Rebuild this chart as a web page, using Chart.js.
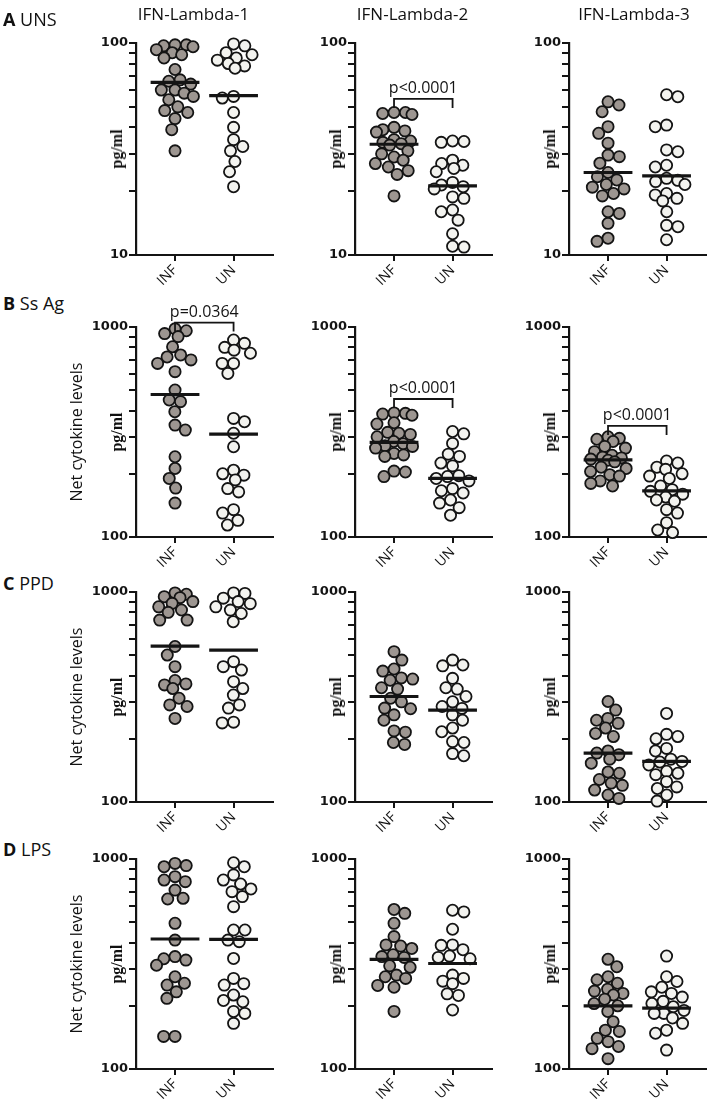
<!DOCTYPE html>
<html><head><meta charset="utf-8">
<script src="https://cdn.jsdelivr.net/npm/chart.js@4.4.0/dist/chart.umd.min.js"></script>
<style>
html,body{margin:0;padding:0;background:#fff;}
body{width:709px;height:1106px;overflow:hidden;position:relative;font-family:'Open Sans',sans-serif;color:#111;}
.lbl{position:absolute;white-space:nowrap;line-height:1;}
canvas{position:absolute;}
</style></head><body>
<script>
// ---------- data ----------
const groups = ['INF', 'UN'];
const cytokines = ['IFN-Lambda-1', 'IFN-Lambda-2', 'IFN-Lambda-3'];
const rowLetters = ['A', 'B', 'C', 'D'];
const rowNames = ['UNS', 'Ss Ag', 'PPD', 'LPS'];
const yTicksUns = [10, 20, 30, 40, 50, 60, 70, 80, 90, 100];
const yTicksStim = [100, 200, 300, 400, 500, 600, 700, 800, 900, 1000];
const rowTicks = [yTicksUns, yTicksStim, yTicksStim, yTicksStim];
const unitLabel = 'pg/ml';
const sideLabel = 'Net cytokine levels';

// A  UNS
const a1Inf = [98, 98, 97, 96, 93, 90, 88, 85, 75, 67, 66, 64, 60, 60, 58, 56, 54, 50, 48, 47, 44, 39, 31];
const a1Un  = [99, 97, 90, 88, 85, 83, 80, 78, 76, 56, 55, 47, 40, 35, 32.5, 31, 27.6, 24.7, 21];
const a2Inf = [47, 47, 46.5, 46, 40, 39, 38.5, 38, 35, 34.5, 34, 33.5, 33, 31, 30, 29, 28, 27, 26, 25, 24, 19];
const a2Un  = [34.5, 34.3, 34, 28, 27, 26.5, 25.6, 24.7, 22, 21.4, 21, 20.5, 18.8, 18.5, 16.3, 16, 14.6, 12.6, 11, 10.9];
const a3Inf = [52.8, 51, 47.4, 40.3, 37.5, 33.7, 29.6, 29.1, 27.1, 24.5, 23.4, 22.6, 21.5, 20.9, 20.5, 19.5, 19, 16, 15.7, 14.1, 12, 11.6];
const a3Un  = [57, 55.8, 41, 40.3, 31.3, 30.7, 26.5, 26, 23, 22.5, 22.2, 21.5, 19.5, 19.2, 18.5, 18, 16, 13.8, 13.6, 11.8];
const aMed  = [[65.2, 56.5], [33.3, 21.2], [24.5, 23.6]];

// B  Ss Ag
const b1Inf = [980, 960, 930, 900, 805, 736, 720, 697, 671, 613, 501, 449, 441, 395, 341, 323, 241, 212, 190, 171, 145];
const b1Un  = [867, 836, 800, 776, 750, 671, 671, 601, 367, 354, 312, 269, 208, 200, 197, 187, 170, 164, 135, 130, 120, 114];
const b2Inf = [390, 388, 385, 380, 350, 345, 315, 312, 308, 300, 285, 278, 272, 270, 265, 250, 246, 242, 206, 204, 194];
const b2Un  = [318, 310, 279, 248, 242, 225, 218, 196, 194, 190, 185, 170, 166, 162, 150, 145, 138, 127];
const b3Inf = [300, 295, 292, 285, 270, 265, 255, 245, 240, 238, 235, 232, 228, 215, 212, 205, 198, 195, 185, 180, 175];
const b3Un  = [230, 225, 215, 210, 200, 195, 190, 175, 168, 165, 160, 155, 150, 148, 135, 130, 117, 108, 105];
const bMed  = [[477, 309], [282, 190], [233, 166]];

// C  PPD
const c1Inf = [990, 975, 950, 940, 900, 883, 850, 821, 800, 735, 735, 550, 501, 441, 379, 365, 361, 347, 312, 290, 285, 250];
const c1Un  = [990, 985, 935, 900, 880, 850, 820, 790, 722, 466, 441, 425, 374, 347, 323, 290, 280, 240, 238];
const c2Inf = [520, 474, 430, 420, 390, 385, 380, 350, 345, 312, 300, 280, 278, 260, 245, 218, 215, 192, 188];
const c2Un  = [474, 449, 445, 388, 350, 345, 318, 300, 285, 279, 260, 245, 225, 216, 194, 192, 170, 166];
const c3Inf = [301, 274, 250, 245, 237, 225, 212, 205, 175, 171, 168, 160, 153, 139, 137, 128, 123, 120, 114, 108, 104];
const c3Un  = [264, 210, 205, 200, 180, 175, 160, 156, 155, 150, 140, 137, 135, 125, 118, 116, 108, 101];
const cMed  = [[553, 529], [318, 274], [171, 156]];

// D  LPS
const d1Inf = [953, 930, 919, 824, 794, 780, 711, 650, 645, 494, 411, 343, 335, 330, 312, 275, 256, 251, 233, 217, 143, 143];
const d1Un  = [960, 919, 840, 794, 760, 720, 699, 662, 593, 459, 459, 411, 404, 336, 270, 255, 251, 225, 212, 209, 188, 184, 165];
const d2Inf = [575, 551, 494, 427, 390, 385, 375, 350, 343, 340, 310, 305, 280, 275, 270, 250, 245, 188];
const d2Un  = [570, 560, 463, 390, 388, 370, 345, 340, 335, 280, 270, 262, 255, 228, 224, 191];
const d3Inf = [333, 307, 275, 266, 256, 240, 235, 229, 225, 215, 205, 200, 188, 168, 153, 151, 140, 135, 128, 125, 112];
const d3Un  = [345, 275, 261, 245, 233, 229, 220, 210, 205, 198, 190, 184, 184, 175, 165, 153, 148, 123];
const dMed  = [[416, 414], [333, 318], [200, 195]];

// significance brackets
const sigRow   = [0, 1, 1, 1];
const sigCol   = [1, 0, 1, 2];
const sigText  = ['p<0.0001', 'p=0.0364', 'p<0.0001', 'p<0.0001'];
const sigLevel = [54.5, 1050, 454, 338];

const panelValues = [
  [[a1Inf, a1Un], [a2Inf, a2Un], [a3Inf, a3Un]],
  [[b1Inf, b1Un], [b2Inf, b2Un], [b3Inf, b3Un]],
  [[c1Inf, c1Un], [c2Inf, c2Un], [c3Inf, c3Un]],
  [[d1Inf, d1Un], [d2Inf, d2Un], [d3Inf, d3Un]]
];
const panelMedians = [aMed, bMed, cMed, dMed];

// ---------- layout / style ----------
const COLX = [136, 355, 569];
const ROWTOP = [43, 327, 592, 859];
const ROWH = [212, 210, 210, 210];
const PAD_TOP = 32, YW = 50, XH = 40, PW = 140;
const INK = '#141414';
const FILLS = ['#9d9691', '#f3f3ef'];
const HALF_LINE = 25 / 60;

const sigPlugin = {
  id: 'sig',
  afterDatasetsDraw(chart, args, opts) {
    if (!opts || opts.level == null) return;
    const xs = chart.scales.x, ys = chart.scales.y, ctx = chart.ctx;
    const y = ys.getPixelForValue(opts.level);
    const x1 = xs.getPixelForValue(0), x2 = xs.getPixelForValue(1);
    ctx.save();
    ctx.strokeStyle = INK; ctx.lineWidth = 1.8;
    ctx.beginPath();
    ctx.moveTo(x1, y + 9); ctx.lineTo(x1, y); ctx.lineTo(x2, y); ctx.lineTo(x2, y + 9);
    ctx.stroke();
    ctx.fillStyle = INK;
    ctx.font = "16px 'Open Sans'";
    ctx.textAlign = 'center'; ctx.textBaseline = 'alphabetic';
    ctx.fillText(opts.text, (x1 + x2) / 2, y - 6);
    ctx.restore();
  }
};

function swarm(pys, D, cap) {
  const order = pys.map((p, i) => i).sort((a, b) => pys[a] - pys[b]);
  const placed = [], out = new Array(pys.length).fill(0);
  let flip = 1;
  for (const i of order) {
    const y = pys[i];
    let best = null;
    for (const d of [D, D * 0.85, D * 0.72, D * 0.6, D * 0.48, D * 0.36]) {
      const iv = [];
      for (const p of placed) {
        const dy = Math.abs(p.y - y);
        if (dy < d) { const w = Math.sqrt(d * d - dy * dy); iv.push([p.x - w, p.x + w]); }
      }
      const cands = [0];
      iv.forEach(v => cands.push(v[0], v[1]));
      const ok = c => !iv.some(v => c > v[0] + 1e-6 && c < v[1] - 1e-6);
      let bx = null;
      for (const c of cands) {
        if (!ok(c)) continue;
        if (bx === null || Math.abs(c) < Math.abs(bx) - 1e-6) bx = c;
      }
      if (bx !== 0 && ok(-bx)) { bx = Math.abs(bx) * flip; flip = -flip; }
      if (Math.abs(bx) <= cap) { best = bx; break; }
      best = Math.max(-cap, Math.min(cap, bx));
    }
    placed.push({ x: best, y });
    out[i] = best;
  }
  return out;
}

function addLabel(text, x, y, css, rotate) {
  const d = document.createElement('div');
  d.className = 'lbl';
  d.innerHTML = text;
  d.style.cssText += css;
  d.style.left = x + 'px'; d.style.top = y + 'px';
  d.style.transform = 'translate(-50%,-50%)' + (rotate ? ' rotate(-90deg)' : '');
  document.body.appendChild(d);
}

Chart.defaults.font.family = "'Open Sans', sans-serif";
Chart.defaults.color = INK;

function makeConfig(r, c, datasets, tickVals) {
  const lo = tickVals[0], hi = tickVals[tickVals.length - 1];
  const si = sigRow.findIndex((rr, k) => rr === r && sigCol[k] === c);
  return {
    type: 'scatter',
    data: { datasets },
    plugins: [sigPlugin],
    options: {
      responsive: false, animation: false,
      layout: { padding: { top: PAD_TOP, right: 4 } },
      plugins: {
        legend: { display: false }, tooltip: { enabled: false },
        sig: si >= 0 ? { level: sigLevel[si], text: sigText[si] } : {}
      },
      scales: {
        x: {
          type: 'linear', min: -2 / 3, max: 5 / 3,
          afterBuildTicks: s => { s.ticks = [{ value: 0 }, { value: 1 }]; },
          afterFit: s => { s.height = XH; },
          border: { display: true, color: INK, width: 2 },
          grid: { drawOnChartArea: false, drawTicks: true, tickLength: 6, color: INK, lineWidth: 2 },
          ticks: {
            autoSkip: false, minRotation: 45, maxRotation: 45, padding: 1,
            font: { size: 14 }, color: INK,
            callback: v => groups[Math.round(v)]
          }
        },
        y: {
          type: 'logarithmic', min: lo, max: hi,
          afterBuildTicks: s => { s.ticks = tickVals.map(v => ({ value: v })); },
          afterFit: s => { s.width = YW; },
          border: { display: true, color: INK, width: 2.2 },
          grid: { drawOnChartArea: false, drawTicks: true, tickLength: 7, color: INK, lineWidth: 2 },
          ticks: {
            autoSkip: false, padding: 1, color: INK,
            font: { family: "'DejaVu Sans'", weight: 'bold', size: 13 },
            callback: v => (v === lo || v === hi) ? String(v) : ''
          }
        }
      }
    }
  };
}

function newCanvas(r) {
  const cv = document.createElement('canvas');
  cv.width = YW + PW + 4;
  cv.height = PAD_TOP + ROWH[r] + XH;
  cv.style.width = cv.width + 'px'; cv.style.height = cv.height + 'px';
  document.body.appendChild(cv);
  return cv;
}

for (let r = 0; r < 4; r++) {
  for (let c = 0; c < 3; c++) {
    const vals = panelValues[r][c];
    const meds = panelMedians[r][c];
    const tickVals = rowTicks[r];

    // pass 1: measuring chart (library scales) to lay out the dot swarm
    const tmpCv = newCanvas(r);
    const tmp = new Chart(tmpCv, makeConfig(r, c, vals.map((arr, g) => ({ data: arr.map(v => ({ x: g, y: v })) })), tickVals));
    const ys0 = tmp.scales.y, xs0 = tmp.scales.x;
    const pxPerUnit = xs0.getPixelForValue(1) - xs0.getPixelForValue(0);
    const offsets = vals.map(arr => swarm(arr.map(v => ys0.getPixelForValue(v)), 11.6, 19));
    tmp.destroy();
    tmpCv.remove();

    // pass 2: final chart
    const datasets = [];
    meds.forEach((m, g) => datasets.push({
      type: 'line', showLine: true, data: [{ x: g - HALF_LINE, y: m }, { x: g + HALF_LINE, y: m }],
      borderColor: INK, borderWidth: 3.2, pointRadius: 0, clip: false, borderCapStyle: 'butt'
    }));
    vals.forEach((arr, g) => datasets.push({
      type: 'scatter', label: groups[g],
      data: arr.map((v, k) => ({ x: g + offsets[g][k] / pxPerUnit, y: v })),
      backgroundColor: FILLS[g], borderColor: INK, borderWidth: 1.8, pointRadius: 5.6,
      pointHoverRadius: 5.6, clip: false
    }));
    const cv = newCanvas(r);
    const chart = new Chart(cv, makeConfig(r, c, datasets, tickVals));
    const ca = chart.chartArea;
    cv.style.left = (COLX[c] - ca.left) + 'px';
    cv.style.top = (ROWTOP[r] - ca.top) + 'px';

    addLabel(unitLabel, COLX[c] - 19, ROWTOP[r] + ROWH[r] / 2,
      "font-family:'Liberation Serif',serif;font-weight:bold;font-size:16px;", true);
  }
  if (r > 0) addLabel(sideLabel, 76, ROWTOP[r] + ROWH[r] / 2, "font-size:16px;", true);
}

const titleX = [193.5, 412.5, 634];
cytokines.forEach((t, c) => addLabel(t, titleX[c], 13, "font-size:17px;"));
const rowLabelY = [20, 304, 584, 850];
rowLetters.forEach((L, r) => {
  const d = document.createElement('div');
  d.className = 'lbl';
  d.innerHTML = '<b>' + L + '</b> ' + rowNames[r];
  d.style.cssText += 'font-size:18px;left:3px;top:' + (rowLabelY[r] - 10) + 'px;';
  document.body.appendChild(d);
});
</script>
</body></html>
